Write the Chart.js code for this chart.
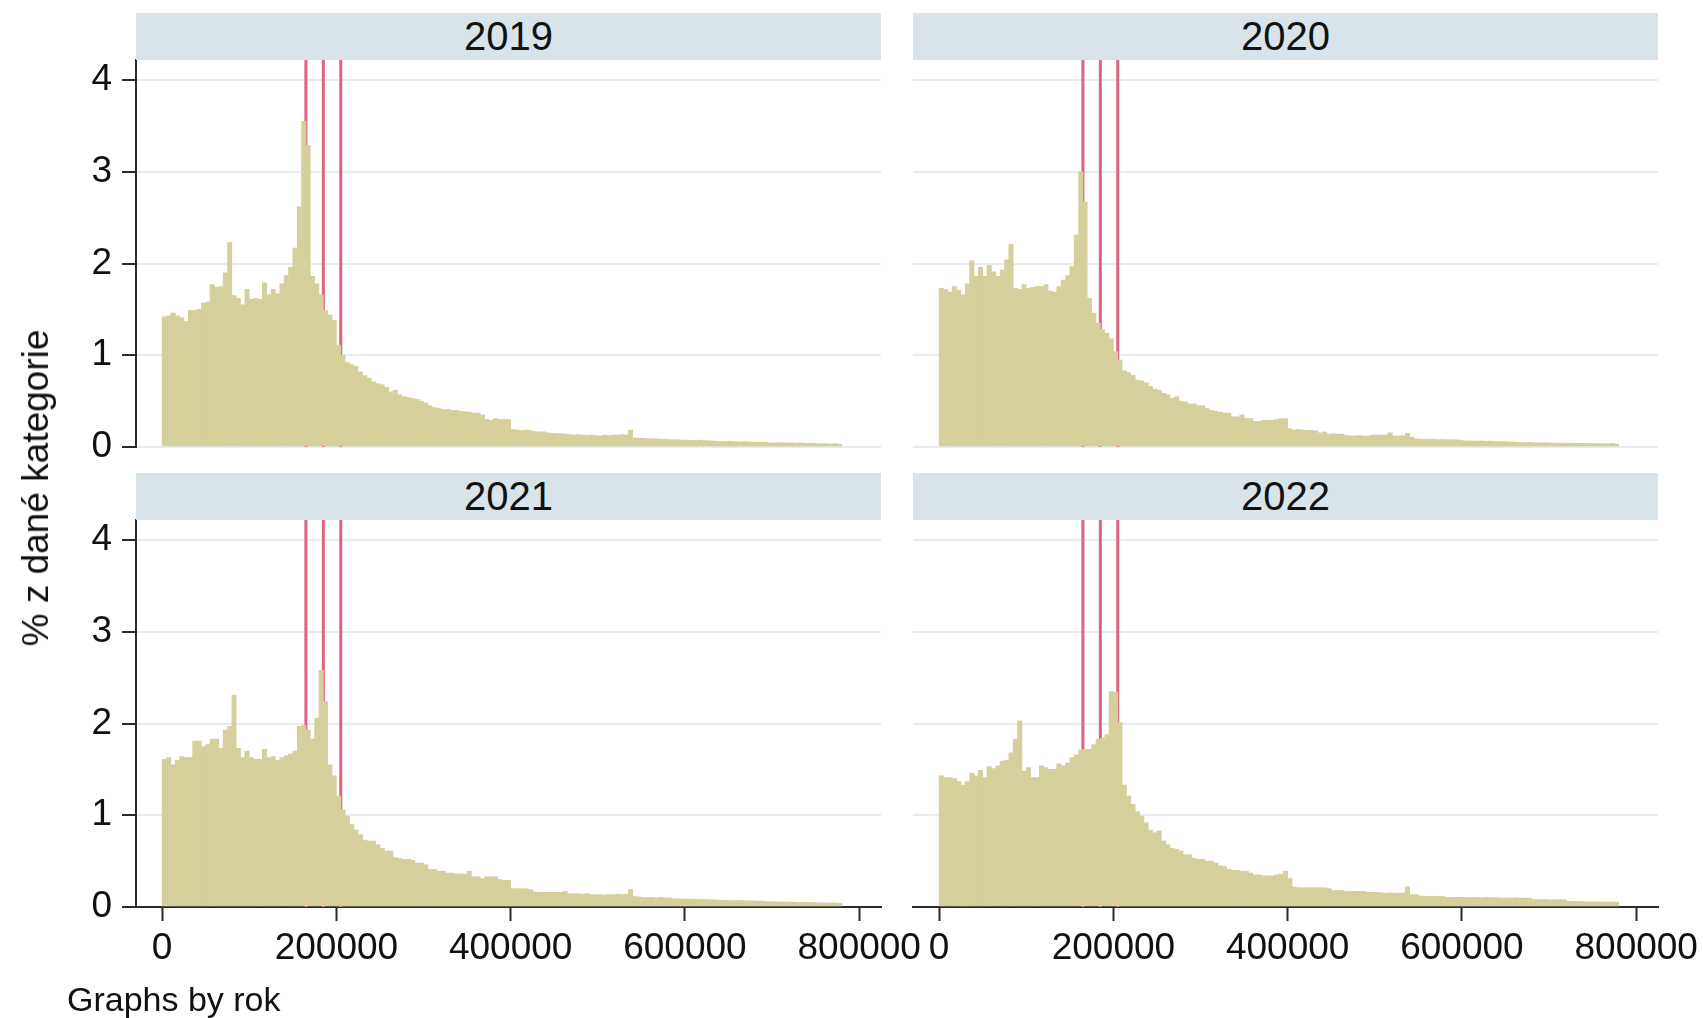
<!DOCTYPE html>
<html lang="cs">
<head>
<meta charset="utf-8">
<title>Rozdělení podle let</title>
<script src="https://cdn.jsdelivr.net/npm/chart.js@4.4.1/dist/chart.umd.min.js"></script>
<style>
  html, body { margin: 0; padding: 0; background: #ffffff; overflow: hidden; }
  #fig { position: relative; width: 1703px; height: 1018px; background: #ffffff;
         font-family: "Liberation Sans", Arial, sans-serif; color: #111; }
  #fig canvas { position: absolute; }
  .strip { position: absolute; background: #d9e4ea; text-align: center;
           font-size: 40px; line-height: 47px; height: 47px; width: 745px; }
  .ytitle { position: absolute; left: 36px; top: 488px; white-space: nowrap;
            font-size: 37px; transform: translate(-50%, -50%) rotate(-90deg); }
  .note { position: absolute; left: 67px; top: 982px; font-size: 34px; line-height: 34px; white-space: nowrap; }
</style>
</head>
<body>
<div id="fig">
  <canvas id="p0"></canvas>
  <canvas id="p1"></canvas>
  <canvas id="p2"></canvas>
  <canvas id="p3"></canvas>
  <div class="ytitle">% z dané kategorie</div>
  <div class="note">Graphs by rok</div>
</div>
<script>
// Histogram bins: 5000 wide, starting at 0
const BIN_WIDTH = 5000;

const years = ['2019', '2020', '2021', '2022'];

// percent of the year's category falling in each bin
const share2019 = [
  1.42, 1.43, 1.46, 1.43, 1.41, 1.37, 1.49, 1.49, 1.50, 1.57,
  1.58, 1.77, 1.74, 1.75, 1.90, 2.23, 1.65, 1.62, 1.55, 1.72,
  1.61, 1.62, 1.61, 1.79, 1.66, 1.72, 1.67, 1.78, 1.87, 1.96,
  2.17, 2.62, 3.55, 3.29, 1.86, 1.78, 1.66, 1.49, 1.44, 1.38,
  1.11, 1.00, 0.92, 0.90, 0.88, 0.82, 0.78, 0.75, 0.71, 0.69,
  0.68, 0.65, 0.60, 0.62, 0.57, 0.55, 0.54, 0.53, 0.52, 0.50,
  0.48, 0.45, 0.43, 0.42, 0.41, 0.41, 0.40, 0.40, 0.39, 0.385,
  0.38, 0.37, 0.37, 0.35, 0.30, 0.29, 0.31, 0.30, 0.30, 0.30,
  0.19, 0.185, 0.18, 0.185, 0.18, 0.17, 0.165, 0.165, 0.155, 0.15,
  0.15, 0.145, 0.14, 0.135, 0.13, 0.135, 0.13, 0.125, 0.13, 0.125,
  0.12, 0.13, 0.125, 0.13, 0.13, 0.135, 0.13, 0.185, 0.10, 0.095,
  0.095, 0.09, 0.09, 0.088, 0.085, 0.085, 0.08, 0.078, 0.08, 0.075,
  0.075, 0.072, 0.07, 0.075, 0.07, 0.068, 0.065, 0.062, 0.06, 0.06,
  0.062, 0.058, 0.055, 0.058, 0.055, 0.052, 0.05, 0.052, 0.05, 0.045,
  0.045, 0.047, 0.046, 0.044, 0.045, 0.042, 0.044, 0.04, 0.04, 0.042,
  0.038, 0.036, 0.035, 0.033, 0.036, 0.03
];
const share2020 = [
  1.73, 1.72, 1.69, 1.75, 1.71, 1.66, 1.78, 2.03, 1.86, 1.96,
  1.86, 1.98, 1.91, 1.86, 1.93, 2.04, 2.21, 1.73, 1.72, 1.77,
  1.73, 1.74, 1.75, 1.75, 1.77, 1.70, 1.69, 1.75, 1.82, 1.87,
  1.97, 2.31, 3.00, 2.67, 1.62, 1.46, 1.35, 1.28, 1.24, 1.18,
  1.04, 0.95, 0.83, 0.81, 0.78, 0.73, 0.72, 0.70, 0.66, 0.63,
  0.62, 0.585, 0.57, 0.53, 0.55, 0.50, 0.49, 0.47, 0.47, 0.45,
  0.45, 0.42, 0.40, 0.39, 0.38, 0.37, 0.37, 0.33, 0.33, 0.35,
  0.31, 0.31, 0.28, 0.28, 0.29, 0.29, 0.29, 0.30, 0.31, 0.31,
  0.20, 0.185, 0.19, 0.185, 0.18, 0.18, 0.175, 0.155, 0.165, 0.14,
  0.145, 0.14, 0.14, 0.125, 0.12, 0.12, 0.125, 0.12, 0.12, 0.13,
  0.13, 0.13, 0.13, 0.155, 0.12, 0.12, 0.125, 0.15, 0.105, 0.09,
  0.085, 0.085, 0.082, 0.085, 0.08, 0.082, 0.08, 0.078, 0.08, 0.075,
  0.068, 0.065, 0.066, 0.064, 0.065, 0.062, 0.063, 0.06, 0.058, 0.06,
  0.056, 0.055, 0.05, 0.05, 0.048, 0.05, 0.047, 0.046, 0.045, 0.047,
  0.044, 0.042, 0.043, 0.04, 0.04, 0.042, 0.04, 0.041, 0.039, 0.04,
  0.038, 0.037, 0.038, 0.036, 0.04, 0.03
];
const share2021 = [
  1.61, 1.63, 1.55, 1.60, 1.64, 1.63, 1.63, 1.81, 1.81, 1.75,
  1.77, 1.83, 1.83, 1.73, 1.93, 1.97, 2.31, 1.73, 1.63, 1.70,
  1.63, 1.61, 1.61, 1.72, 1.63, 1.64, 1.60, 1.63, 1.65, 1.67,
  1.70, 1.97, 1.98, 1.93, 1.83, 2.06, 2.58, 2.24, 1.55, 1.43,
  1.21, 1.06, 0.99, 0.90, 0.84, 0.79, 0.73, 0.72, 0.72, 0.68,
  0.64, 0.61, 0.61, 0.54, 0.53, 0.52, 0.52, 0.51, 0.48, 0.48,
  0.46, 0.41, 0.41, 0.39, 0.39, 0.37, 0.37, 0.36, 0.36, 0.36,
  0.39, 0.33, 0.33, 0.31, 0.33, 0.33, 0.33, 0.30, 0.29, 0.29,
  0.20, 0.20, 0.20, 0.20, 0.19, 0.165, 0.16, 0.16, 0.16, 0.16,
  0.16, 0.16, 0.17, 0.145, 0.145, 0.145, 0.14, 0.145, 0.135, 0.135,
  0.135, 0.13, 0.135, 0.135, 0.14, 0.135, 0.14, 0.19, 0.115, 0.11,
  0.105, 0.105, 0.105, 0.10, 0.105, 0.10, 0.098, 0.09, 0.088, 0.087,
  0.085, 0.087, 0.085, 0.082, 0.083, 0.08, 0.08, 0.075, 0.073, 0.074,
  0.072, 0.07, 0.072, 0.07, 0.068, 0.068, 0.066, 0.064, 0.06, 0.058,
  0.056, 0.057, 0.055, 0.054, 0.055, 0.052, 0.05, 0.052, 0.05, 0.048,
  0.046, 0.045, 0.044, 0.045, 0.043, 0.04
];
const share2022 = [
  1.43, 1.41, 1.41, 1.40, 1.37, 1.33, 1.37, 1.46, 1.43, 1.49,
  1.41, 1.53, 1.51, 1.54, 1.59, 1.60, 1.68, 1.83, 2.03, 1.48,
  1.52, 1.41, 1.41, 1.54, 1.52, 1.50, 1.50, 1.56, 1.54, 1.57,
  1.63, 1.66, 1.71, 1.72, 1.72, 1.77, 1.83, 1.84, 1.88, 2.35,
  2.34, 2.01, 1.33, 1.21, 1.12, 1.04, 0.99, 0.92, 0.84, 0.81,
  0.83, 0.72, 0.68, 0.64, 0.63, 0.61, 0.57, 0.57, 0.53, 0.52,
  0.52, 0.50, 0.50, 0.48, 0.45, 0.44, 0.41, 0.40, 0.40, 0.39,
  0.39, 0.37, 0.35, 0.35, 0.34, 0.34, 0.34, 0.35, 0.36, 0.39,
  0.31, 0.22, 0.21, 0.21, 0.21, 0.21, 0.21, 0.21, 0.21, 0.20,
  0.18, 0.18, 0.18, 0.17, 0.17, 0.17, 0.17, 0.17, 0.16, 0.16,
  0.16, 0.155, 0.15, 0.155, 0.15, 0.15, 0.152, 0.22, 0.135, 0.135,
  0.118, 0.116, 0.115, 0.118, 0.115, 0.116, 0.106, 0.105, 0.104, 0.106,
  0.105, 0.103, 0.105, 0.104, 0.102, 0.105, 0.103, 0.102, 0.098, 0.097,
  0.098, 0.097, 0.099, 0.096, 0.097, 0.095, 0.082, 0.08, 0.081, 0.08,
  0.078, 0.08, 0.079, 0.078, 0.063, 0.062, 0.062, 0.06, 0.056, 0.055,
  0.056, 0.055, 0.054, 0.055, 0.054, 0.052
];

// axis ticks
const xTicks = [0, 200000, 400000, 600000, 800000];
const yTicks = [0, 1, 2, 3, 4];

// vertical reference lines (same in every year)
const refLines = [165000, 185000, 205000];

const series = [share2019, share2020, share2021, share2022];

// axis ranges
const X_MIN = -30000, X_MAX = 825000;
const Y_MIN = 0, Y_MAX = 4.22;

// styling
const BAR = 'rgb(213, 208, 155)';
const RED = 'rgb(224, 98, 128)';
const GRID = '#e6ecef';
const AXIS = '#2a2a2a';
const TEXT = '#111111';
const FONT = { family: '"Liberation Sans", Arial, sans-serif', size: 37 };

// where each panel's canvas sits and how its plot area is inset
const panels = [
  { box: { left: 0,   top: 20,  width: 960, height: 470 }, pad: { left: 0,  top: 40, right: 79, bottom: 43 }, yW: 136, xH: 0,  yAxis: true,  xAxis: false, strip: { left: 136, top: 13 } },
  { box: { left: 893, top: 20,  width: 810, height: 470 }, pad: { left: 20, top: 40, right: 45, bottom: 43 }, yW: 0,   xH: 0,  yAxis: false, xAxis: false, strip: { left: 913, top: 13 } },
  { box: { left: 0,   top: 480, width: 960, height: 538 }, pad: { left: 0,  top: 40, right: 79, bottom: 21 }, yW: 136, xH: 90, yAxis: true,  xAxis: true,  strip: { left: 136, top: 473 } },
  { box: { left: 893, top: 480, width: 810, height: 538 }, pad: { left: 20, top: 40, right: 45, bottom: 21 }, yW: 0,   xH: 90, yAxis: false, xAxis: true,  strip: { left: 913, top: 473 } }
];

const fig = document.getElementById('fig');

panels.forEach((p, k) => {
  const cv = document.getElementById('p' + k);
  cv.width = p.box.width;
  cv.height = p.box.height;
  cv.style.left = p.box.left + 'px';
  cv.style.top = p.box.top + 'px';

  // year header strip
  const s = document.createElement('div');
  s.className = 'strip';
  s.style.left = p.strip.left + 'px';
  s.style.top = p.strip.top + 'px';
  s.textContent = years[k];
  fig.appendChild(s);

  const bars = {
    type: 'bar',
    order: 0,
    data: series[k].map((v, i) => ({ x: (i + 0.5) * BIN_WIDTH, y: v })),
    backgroundColor: BAR,
    borderWidth: 0,
    barPercentage: 1,
    categoryPercentage: 1
  };
  const lines = refLines.map(v => ({
    type: 'line',
    order: 1,
    data: [{ x: v, y: Y_MIN }, { x: v, y: Y_MAX }],
    borderColor: RED,
    borderWidth: 3,
    borderCapStyle: 'butt',
    pointRadius: 0,
    fill: false
  }));

  new Chart(cv, {
    type: 'bar',
    data: { datasets: [bars, ...lines] },
    options: {
      responsive: false,
      animation: false,
      devicePixelRatio: 1,
      layout: { padding: p.pad },
      plugins: { legend: { display: false }, tooltip: { enabled: false } },
      scales: {
        x: {
          type: 'linear',
          min: X_MIN,
          max: X_MAX,
          offset: false,
          display: p.xAxis,
          grid: { offset: false, drawOnChartArea: false, drawTicks: true, tickLength: 14, tickColor: AXIS, tickWidth: 2 },
          border: { display: true, color: AXIS, width: 2 },
          ticks: { padding: 6, font: FONT, color: TEXT, maxRotation: 0, autoSkip: false,
                   callback: v => String(v) },
          afterBuildTicks: sc => { sc.ticks = xTicks.map(v => ({ value: v })); },
          afterFit: sc => { sc.height = p.xH; sc.paddingLeft = 0; sc.paddingRight = 0; }
        },
        y: {
          type: 'linear',
          min: Y_MIN,
          max: Y_MAX,
          grid: { offset: false, color: GRID, lineWidth: 2, drawTicks: p.yAxis, tickLength: 14, tickColor: AXIS, tickWidth: 2 },
          border: { display: p.yAxis, color: AXIS, width: 2 },
          ticks: { display: p.yAxis, padding: 10, font: FONT, color: TEXT,
                   callback: v => String(v) },
          afterBuildTicks: sc => { sc.ticks = yTicks.map(v => ({ value: v })); },
          afterFit: sc => { sc.width = p.yW; sc.paddingTop = 0; sc.paddingBottom = 0; }
        }
      }
    }
  });
});
</script>
</body>
</html>
